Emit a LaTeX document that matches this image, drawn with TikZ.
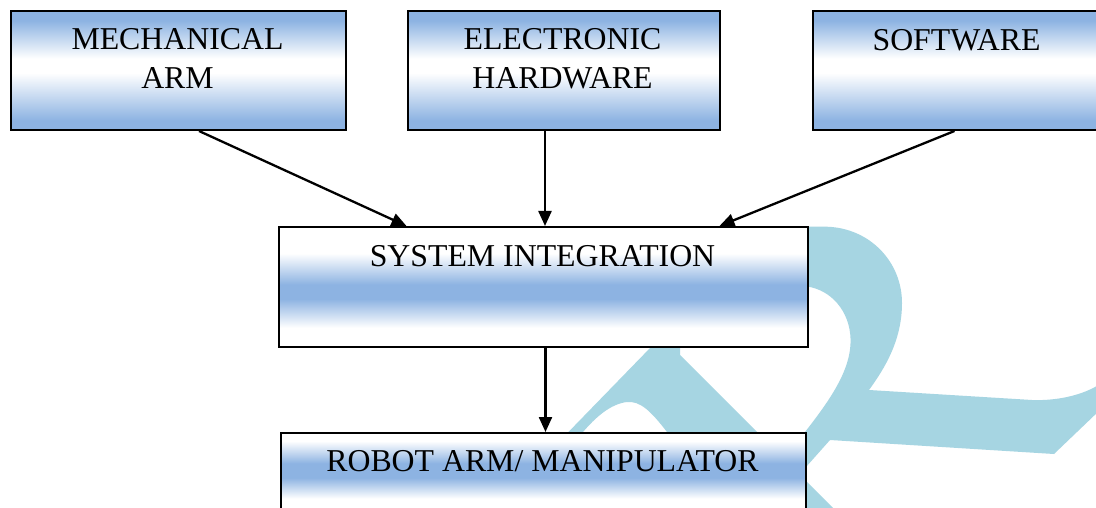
\documentclass[tikz,border=0pt]{standalone}
\usepackage{fontspec}
\setmainfont{Liberation Serif}
\usetikzlibrary{arrows.meta}
\definecolor{wblue}{RGB}{141,179,226}
\definecolor{wmark}{RGB}{166,213,226}
\pgfdeclareverticalshading{topshade}{100bp}{color(0bp)=(wblue); color(29bp)=(wblue); color(49bp)=(white); color(55bp)=(white); color(71bp)=(wblue); color(100bp)=(wblue)}
\pgfdeclareverticalshading{sysshade}{100bp}{color(0bp)=(white); color(33bp)=(white); color(45bp)=(wblue); color(51bp)=(wblue); color(64bp)=(white); color(100bp)=(white)}
\pgfdeclareverticalshading{robshade}{100bp}{color(0bp)=(white); color(34bp)=(white); color(47bp)=(wblue); color(56bp)=(wblue); color(70bp)=(white); color(100bp)=(white)}
\begin{document}
\begin{tikzpicture}[x=1pt,y=-1pt,
  box/.style={draw=black, line width=2pt, inner sep=0pt, anchor=north west},
  lbl/.style={font=\fontsize{31.8}{38.7}\selectfont, align=center, inner sep=0pt, anchor=north},
  conn/.style={line width=2.3pt, -{Triangle[length=15pt,width=13pt]}}]
\useasboundingbox (0,0) rectangle (1096,508);
\clip (0,0) rectangle (1096,508);
\fill[white] (0,0) rectangle (1096,508);
% watermark
\fill[wmark] (795,226.7) -- (826.7,226.7) .. controls (870,228) and (902,262) .. (902,303) .. controls (902,340) and (885,368) .. (869,390) -- (1032,400) .. controls (1060,401) and (1085,394) .. (1100,384) -- (1100,410) -- (1054,454) -- (830,440) -- (790,485) -- (770,485) -- (805,432) .. controls (830,400) and (851,370) .. (850.6,340) .. controls (850,310) and (830,290) .. (808,286.7) -- (795,286.7) -- cycle;
\fill[wmark] (555.8,445) -- (652,346) -- (680,346) -- (680,355) -- (843,518) -- (700,518) -- (667,432) .. controls (650,410) and (640,401) .. (627,402) .. controls (610,404) and (595,418) .. (583,432) -- (575,445) -- cycle;
% boxes
\node[box, shading=topshade, minimum width=335pt, minimum height=119pt] (mech) at (10,10) {};
\node[box, shading=topshade, minimum width=312pt, minimum height=119pt] (elec) at (406.5,10) {};
\node[box, shading=topshade, minimum width=289pt, minimum height=119pt] (soft) at (812,10) {};
\node[box, shading=sysshade, minimum width=529pt, minimum height=120pt] (sys) at (278,226) {};
\node[box, shading=robshade, minimum width=525pt, minimum height=80pt] (rob) at (280,432) {};
% texts
\node[lbl] (mechT) at (177.5,28.3) {MECHANICAL\\ARM};
\node[lbl] (elecT) at (562.5,28.3) {ELECTRONIC\\HARDWARE};
\node[lbl] (softT) at (956.5,29.3) {SOFTWARE};
\node[lbl] (sysT) at (542.5,245) {SYSTEM INTEGRATION};
\node[lbl] (robT) at (542.5,450) {ROBOT ARM/ MANIPULATOR};
% connectors
\draw[conn] ([xshift=20.5pt]mech.south) -- ([xshift=-137pt]sys.north);
\draw[conn] ([xshift=-18.5pt]elec.south) -- ([xshift=1.5pt]sys.north);
\draw[conn] ([xshift=-3pt]soft.south) -- ([xshift=176pt]sys.north);
\draw[conn] ([xshift=2pt]sys.south) -- ([xshift=2pt]rob.north);
\end{tikzpicture}
\end{document}
